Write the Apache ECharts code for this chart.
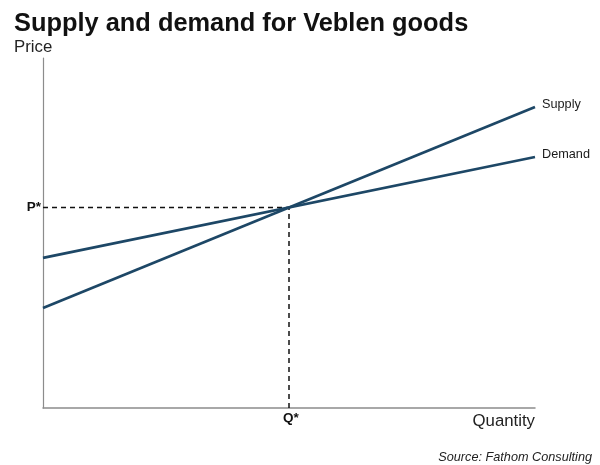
<!DOCTYPE html>
<html>
<head>
<meta charset="utf-8">
<style>
    html, body { margin: 0; padding: 0; background: #fff; }
    #main { width: 600px; height: 465px; }
</style>
<script src="https://cdn.jsdelivr.net/npm/echarts@6/dist/echarts.min.js"></script>
</head>
<body>
<div id="main"></div>
<script>
var titleText = 'Supply and demand for Veblen goods';
var sourceText = 'Source: Fathom Consulting';
var quantities = [0, 100];
var supplyValues = [28.6, 86];
var demandValues = [42.9, 71.7];
var eqQuantity = 50;
var eqPrice = 57.3;
var priceTick = ['P*'];
var quantityTick = ['Q*'];

var lineColor = '#1d4766';
var font = '"Liberation Sans", Arial, sans-serif';

function pairs(xs, ys) {
    return xs.map(function (x, i) { return [x, ys[i]]; });
}

function curve(name, values) {
    return {
        name: name,
        type: 'line',
        data: pairs(quantities, values),
        showSymbol: false,
        silent: true,
        z: 3,
        lineStyle: { color: lineColor, width: 2.7 },
        endLabel: {
            show: true,
            formatter: name,
            color: '#1a1a1a',
            fontFamily: font,
            fontSize: 12.7,
            distance: 7,
            offset: [0, -3]
        }
    };
}

function guide(data) {
    return {
        type: 'line',
        data: data,
        showSymbol: false,
        silent: true,
        z: 2,
        lineStyle: { color: '#111', width: 1.5, type: [5, 4] }
    };
}

var myChart = echarts.init(document.getElementById('main'));

var option = {
    backgroundColor: '#fff',
    animation: false,
    textStyle: { fontFamily: font },
    title: [
        { text: titleText, left: 9, top: 6, textStyle: { fontFamily: font, fontSize: 25.4, fontWeight: 'bold', color: '#111' } },
        { text: 'Price', left: 9, top: 34, textStyle: { fontFamily: font, fontSize: 16.8, fontWeight: 'normal', color: '#222' } },
        { text: 'Quantity', right: 60, top: 408, textStyle: { fontFamily: font, fontSize: 16.8, fontWeight: 'normal', color: '#222' } },
        { text: sourceText, right: 3, top: 446, textStyle: { fontFamily: font, fontSize: 12.7, fontWeight: 'normal', fontStyle: 'italic', color: '#222' } }
    ],
    grid: { left: 43, right: 65, top: 58, bottom: 57 },
    xAxis: {
        type: 'value',
        min: 0,
        max: 100,
        splitLine: { show: false },
        axisLine: { show: true, onZero: false, lineStyle: { color: '#8c8c8c', width: 1.5 } },
        axisTick: { show: false },
        axisLabel: {
            customValues: [eqQuantity],
            formatter: function () { return quantityTick[0]; },
            color: '#111',
            fontFamily: font,
            fontSize: 13.5,
            fontWeight: 'bold',
            margin: 3,
            padding: [0, 0, 0, 4]
        }
    },
    yAxis: {
        type: 'value',
        min: 0,
        max: 100,
        splitLine: { show: false },
        axisLine: { show: true, onZero: false, lineStyle: { color: '#8c8c8c', width: 1.2 } },
        axisTick: { show: false },
        axisLabel: {
            customValues: [eqPrice],
            formatter: function () { return priceTick[0]; },
            color: '#111',
            fontFamily: font,
            fontSize: 13.5,
            fontWeight: 'bold',
            margin: 2
        }
    },
    series: [
        guide([[0, eqPrice], [eqQuantity, eqPrice]]),
        guide([[eqQuantity, 0], [eqQuantity, eqPrice]]),
        curve('Supply', supplyValues),
        curve('Demand', demandValues)
    ]
};

myChart.setOption(option);
</script>
</body>
</html>
